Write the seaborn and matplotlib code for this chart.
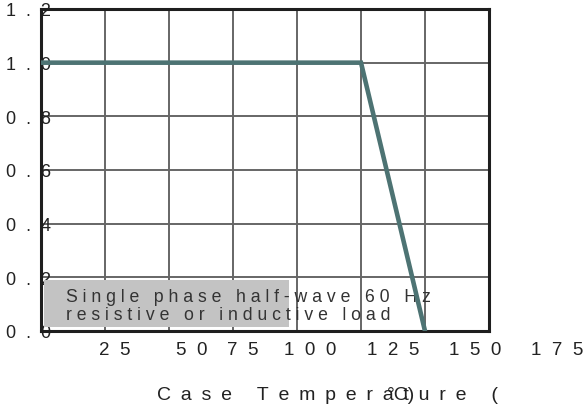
import matplotlib
matplotlib.use('Agg')
import matplotlib.pyplot as plt
import matplotlib.transforms as mtransforms
from matplotlib.patches import Rectangle
import seaborn as sns
import pandas as pd

# ---- data ----
case_temp = [0, 125, 150]
rel_current = [1.0, 1.0, 0.0]
x_grid = [25, 50, 75, 100, 125, 150]
x_tick_labels = ["25", "50", "75", "100", "125", "150", "175"]
y_ticks = [0.0, 0.2, 0.4, 0.6, 0.8, 1.0, 1.2]
y_tick_labels = ["0.0", "0.2", "0.4", "0.6", "0.8", "1.0", "1.2"]
note_lines = ["Single phase half-wave 60 Hz", "resistive or inductive load"]
x_label = "Case Temperature ("
x_label_unit = "°C)"

# ---- placement (as rendered in the reference) ----
x_label_pos = [28.9, 59.0, 78.9, 105.1, 137.5, 169.5, 201.6]


def spaced(s, gap="  "):
    return gap.join(s)


sns.set_style('white')
plt.rcParams['font.family'] = ['Liberation Sans', 'DejaVu Sans']

fig = plt.figure(figsize=(5.84, 4.10), dpi=100)
ax = fig.add_axes([41 / 584, 1 - 332 / 410, 448 / 584, 322 / 410])

df = pd.DataFrame({'t': case_temp, 'i': rel_current})
sns.lineplot(data=df, x='t', y='i', ax=ax, color='#4d7373', lw=3.3,
             zorder=5, solid_joinstyle='miter')

ax.set_xlim(0, 175)
ax.set_ylim(0, 1.2)
ax.set_xticks(x_grid)
ax.set_xticklabels([])
ax.set_yticks(y_ticks, labels=[spaced(l) for l in y_tick_labels])
ax.grid(True, color='#666666', lw=1.4)
ax.tick_params(length=0)
ax.tick_params(axis='y', pad=-7.2, labelsize=13, labelcolor='#222222')
for s in ax.spines.values():
    s.set_visible(True)
    s.set_linewidth(2.2)
    s.set_color('#1e1e1e')

trans = mtransforms.blended_transform_factory(ax.transData, ax.transAxes)
for pos, lab in zip(x_label_pos, x_tick_labels):
    ax.text(pos, -0.059, spaced(lab), transform=trans, ha='center', va='center',
            fontsize=13.5, color='#222222')

# note box
ax.add_patch(Rectangle((3 / 448, 4 / 322), 245 / 448, 47 / 322, transform=ax.transAxes,
                       facecolor='#c3c3c3', edgecolor='none', zorder=2))
ax.text(25 / 448, 30 / 322, spaced(note_lines[0], " "), transform=ax.transAxes,
        ha='left', va='baseline', fontsize=12.7, color='#333333', zorder=4)
ax.text(25 / 448, 12 / 322, spaced(note_lines[1], " "), transform=ax.transAxes,
        ha='left', va='baseline', fontsize=12.7, color='#333333', zorder=4)

ax.set_xlabel(spaced(x_label, "\u2002"), ha='left', va='baseline', fontsize=14,
              color='#222222')
ax.xaxis.set_label_coords(116 / 448, -68 / 322)
ax.set_ylabel('')
ax.text(346 / 448, -68 / 322, x_label_unit, transform=ax.transAxes, ha='left',
        va='baseline', fontsize=14, color='#222222')

fig.savefig('out.png', dpi=100)
